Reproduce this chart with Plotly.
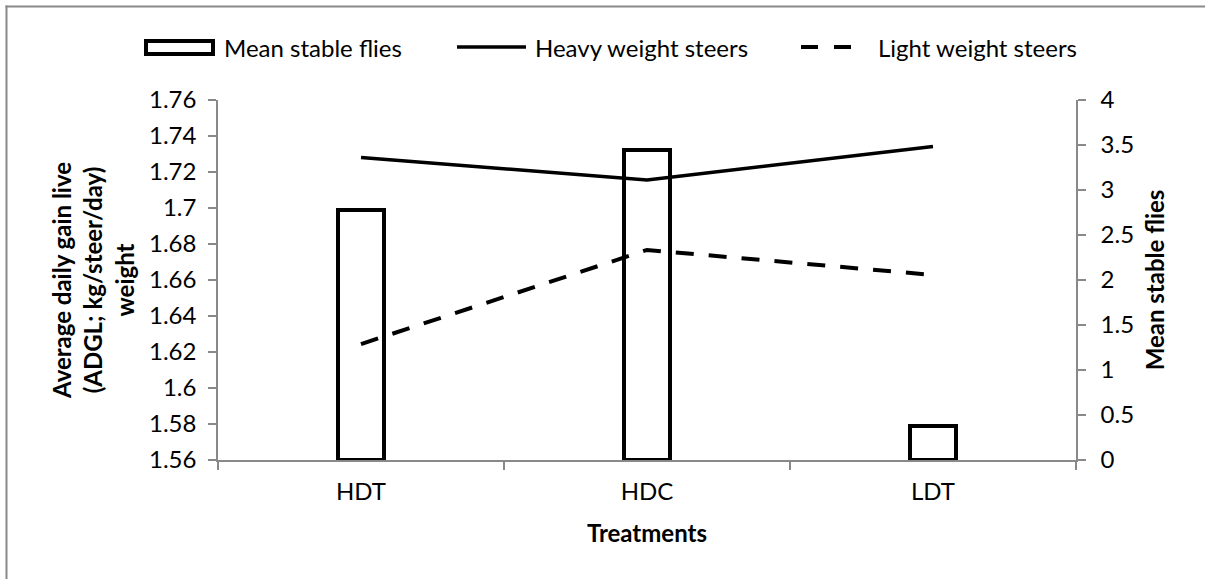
import plotly.graph_objects as go

# Treatments and measured responses
treatments = ["HDT", "HDC", "LDT"]
mean_stable_flies = [2.78, 3.44, 0.38]
heavy_weight_adg = [1.728, 1.7156, 1.7342]
light_weight_adg = [1.6244, 1.6767, 1.6628]

# Axis tick labels
adg_ticks = [1.56, 1.58, 1.60, 1.62, 1.64, 1.66, 1.68, 1.70, 1.72, 1.74, 1.76]
adg_tick_text = ["1.56", "1.58", "1.6", "1.62", "1.64", "1.66", "1.68", "1.7", "1.72", "1.74", "1.76"]
fly_ticks = [0, 0.5, 1, 1.5, 2, 2.5, 3, 3.5, 4]
fly_tick_text = ["0", "0.5", "1", "1.5", "2", "2.5", "3", "3.5", "4"]

W, H = 1205, 579
ML, MR, MT, MB = 218, 129, 100, 119
PW, PH = W - ML - MR, H - MT - MB

FONT = "Lato"
FS = 24
GRAY = "#898989"


def px(x):
    return (x - ML) / PW


def py(y):
    return (H - MB - y) / PH


fig = go.Figure()

# Bars on the primary (right-hand) axis so the lines sit above them
fig.add_trace(go.Bar(
    x=treatments, y=mean_stable_flies, name="Mean stable flies",
    marker=dict(color="white", line=dict(color="black", width=4)),
    width=0.162, yaxis="y",
))
fig.add_trace(go.Scatter(
    x=treatments, y=heavy_weight_adg, name="Heavy weight steers", mode="lines",
    line=dict(color="black", width=3.5), yaxis="y2",
))
fig.add_trace(go.Scatter(
    x=treatments, y=light_weight_adg, name="Light weight steers", mode="lines",
    line=dict(color="black", width=4, dash="18px,15px"), yaxis="y2",
))

shapes = [
    # outer chart frame (top and left edges)
    dict(type="line", xref="paper", yref="paper",
         x0=px(5.5), x1=px(W), y0=py(6.5), y1=py(6.5),
         line=dict(color=GRAY, width=2), layer="below"),
    dict(type="line", xref="paper", yref="paper",
         x0=px(6.5), x1=px(6.5), y0=py(5.5), y1=py(H),
         line=dict(color=GRAY, width=2), layer="below"),
    # legend keys
    dict(type="rect", xref="paper", yref="paper",
         x0=px(146), x1=px(213), y0=py(54), y1=py(41),
         line=dict(color="black", width=4), fillcolor="white"),
    dict(type="line", xref="paper", yref="paper",
         x0=px(457), x1=px(526), y0=py(47), y1=py(47),
         line=dict(color="black", width=3.5)),
    dict(type="line", xref="paper", yref="paper",
         x0=px(801), x1=px(851), y0=py(47), y1=py(47),
         line=dict(color="black", width=4, dash="17px,16px")),
]

annotations = [
    dict(text="Mean stable flies", x=px(222), y=py(47)),
    dict(text="Heavy weight steers", x=px(533), y=py(47)),
    dict(text="Light weight steers", x=px(876), y=py(47)),
]
for a in annotations:
    a.update(xref="paper", yref="paper", xanchor="left", yanchor="middle",
             showarrow=False, font=dict(family=FONT, size=FS, color="black"))

axis_common = dict(
    showgrid=False, zeroline=False, showline=True, linecolor=GRAY, linewidth=1.5,
    ticks="outside", ticklen=8, tickcolor=GRAY, tickwidth=1.5,
    tickfont=dict(family=FONT, size=FS, color="black"),
)

fig.update_layout(
    width=W, height=H, autosize=False,
    margin=dict(l=ML, r=MR, t=MT, b=MB),
    paper_bgcolor="white", plot_bgcolor="white",
    showlegend=False, bargap=0,
    shapes=shapes, annotations=annotations,
    xaxis=dict(
        type="category", categoryorder="array", categoryarray=treatments,
        tickson="boundaries", range=[-0.5, 2.5], ticklabelstandoff=9,
        title=dict(text="<b>Treatments</b>", font=dict(family=FONT, size=FS, color="black"), standoff=22),
        **axis_common,
    ),
    yaxis=dict(
        side="right", range=[0, 4], tickmode="array", ticklabelstandoff=10,
        tickvals=fly_ticks, ticktext=fly_tick_text,
        title=dict(text="<b>Mean stable flies</b>", font=dict(family=FONT, size=FS, color="black"), standoff=14),
        **axis_common,
    ),
    yaxis2=dict(
        side="left", overlaying="y", range=[1.56, 1.76], tickmode="array", ticklabelstandoff=7,
        tickvals=adg_ticks, ticktext=adg_tick_text,
        title=dict(text="<b>Average daily gain live<br>(ADGL; kg/steer/day)<br>weight</b>",
                   font=dict(family=FONT, size=FS, color="black"), standoff=8),
        **axis_common,
    ),
)

fig.write_html("out.html")
